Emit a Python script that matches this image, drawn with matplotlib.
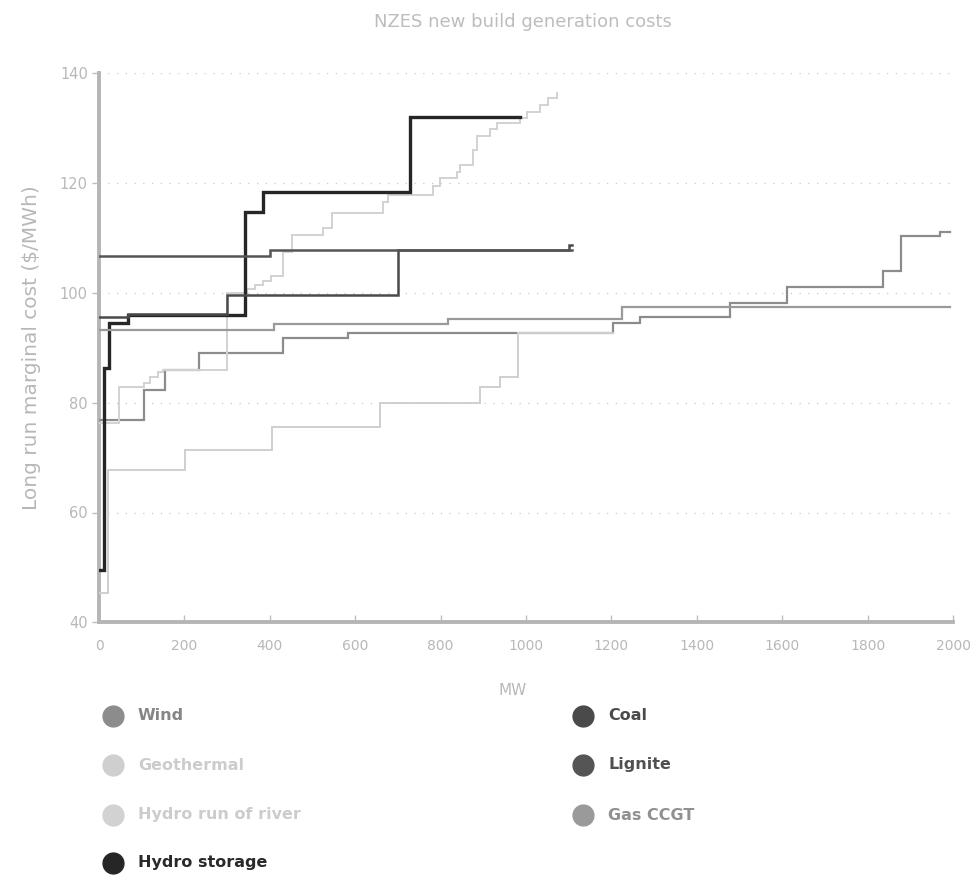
import matplotlib
matplotlib.use("Agg")
import matplotlib.pyplot as plt
from matplotlib.lines import Line2D

# ---- data (MW cumulative start, cost $/MWh) ----
wind_mw = [0, 105, 154, 234, 430, 584, 1204, 1267, 1478, 1611, 1836, 1878, 1970, 1993]
wind_cost = [76.9, 82.3, 86.0, 89.1, 91.8, 92.7, 94.5, 95.7, 98.1, 101.0, 104.0, 110.4, 111.1, 111.1]

geo_mw = [0, 20, 202, 405, 658, 892, 939, 982, 1204]
geo_cost = [45.3, 67.7, 71.4, 75.6, 79.9, 82.9, 84.7, 92.7, 92.7]

ror_mw = [0, 46, 105, 119, 138, 150, 300, 346, 365, 384, 403, 432, 451, 525, 545,
          666, 677, 782, 799, 838, 845, 876, 885, 916, 932, 986, 1002, 1033, 1052, 1073]
ror_cost = [76.3, 82.9, 83.6, 84.6, 85.6, 86.0, 99.9, 100.7, 101.4, 102.2, 103.0, 107.5,
            110.6, 111.8, 114.5, 116.5, 117.8, 119.5, 120.9, 122.0, 123.3, 126.0, 128.5,
            129.8, 130.9, 131.8, 133.0, 134.2, 135.5, 136.4]

hs_mw = [0, 11, 23, 68, 342, 385, 728, 986]
hs_cost = [49.5, 86.3, 94.6, 96.0, 114.7, 118.4, 132.0, 132.0]

coal_mw = [0, 68, 300, 701, 1100, 1107]
coal_cost = [95.6, 96.1, 99.7, 107.9, 108.7, 108.7]

lignite_mw = [0, 400, 1107]
lignite_cost = [106.7, 107.9, 107.9]

gas_mw = [0, 409, 818, 1224, 1993]
gas_cost = [93.2, 94.4, 95.2, 97.5, 97.5]

series_names = ["Wind", "Geothermal", "Hydro run of river", "Hydro storage",
                "Coal", "Lignite", "Gas CCGT"]
series_x = [wind_mw, geo_mw, ror_mw, hs_mw, coal_mw, lignite_mw, gas_mw]
series_y = [wind_cost, geo_cost, ror_cost, hs_cost, coal_cost, lignite_cost, gas_cost]
series_colors = ["#8c8c8c", "#cfcfcf", "#d2d2d2", "#262626", "#4a4a4a", "#555555", "#9a9a9a"]
text_colors = ["#858585", "#cccccc", "#cccccc", "#2a2a2a", "#4a4a4a", "#505050", "#909090"]
series_lw = [1.6, 1.4, 1.4, 2.4, 1.8, 1.8, 1.6]

x_ticks = list(range(0, 2001, 200))
y_ticks = list(range(40, 141, 20))

W, H = 971, 877
fig = plt.figure(figsize=(W / 100, H / 100), dpi=100)
ax = fig.add_axes([99 / W, 1 - 622.3 / H, (953 - 99) / W, (622.3 - 73.3) / H])

for i, (xs, ys) in enumerate(zip(series_x, series_y)):
    ax.plot(xs, ys, drawstyle="steps-post", color=series_colors[i],
            lw=series_lw[i], zorder=3 + i, solid_joinstyle="miter")

ax.set_xlim(0, 2000)
ax.set_ylim(40, 140)
ax.set_xticks(x_ticks)
ax.set_yticks(y_ticks)
ax.set_xticklabels([str(t) for t in x_ticks])
ax.set_yticklabels([str(t) for t in y_ticks])

grid_col = "#c8c8c8"
for t in y_ticks[1:]:
    ax.axhline(t, color=grid_col, lw=0.9, ls=(0, (1, 6)), zorder=1)

for s in ["top", "right"]:
    ax.spines[s].set_visible(False)
for s in ["left", "bottom"]:
    ax.spines[s].set_color("#b5b5b5")
    ax.spines[s].set_linewidth(2.8)

ax.tick_params(axis="x", direction="in", length=5, width=1, color="#bdbdbd",
               labelcolor="#b8b8b8", labelsize=10, pad=12)
ax.tick_params(axis="y", direction="out", length=5, width=1, color="#bdbdbd",
               labelcolor="#b8b8b8", labelsize=10.5, pad=3)

ax.set_xlabel("MW", color="#b8b8b8", fontsize=11)
ax.xaxis.set_label_coords(0.484, -0.11)
ax.set_ylabel("Long run marginal cost ($/MWh)", color="#b8b8b8", fontsize=14.5)
ax.yaxis.set_label_coords(-0.068, 0.5)

fig.text(523 / W, 1 - 22 / H, "NZES new build generation costs", ha="center",
         va="center", color="#bdbdbd", fontsize=13)

# legend (two columns)
rows = [716, 765, 815, 863]
positions = [(113, rows[0]), (113, rows[1]), (113, rows[2]), (113, rows[3]),
             (583, rows[0]), (583, rows[1]), (583, rows[2])]
for i, name in enumerate(series_names):
    mx, my = positions[i]
    fig.add_artist(Line2D([mx / W], [1 - my / H], transform=fig.transFigure,
                          marker="o", markersize=15, color=series_colors[i],
                          markeredgecolor=series_colors[i], linestyle="none"))
    fig.text((mx + 25) / W, 1 - my / H, name, ha="left", va="center",
             color=text_colors[i], fontsize=11.5, fontweight="bold")

fig.savefig("out.png", dpi=100)
